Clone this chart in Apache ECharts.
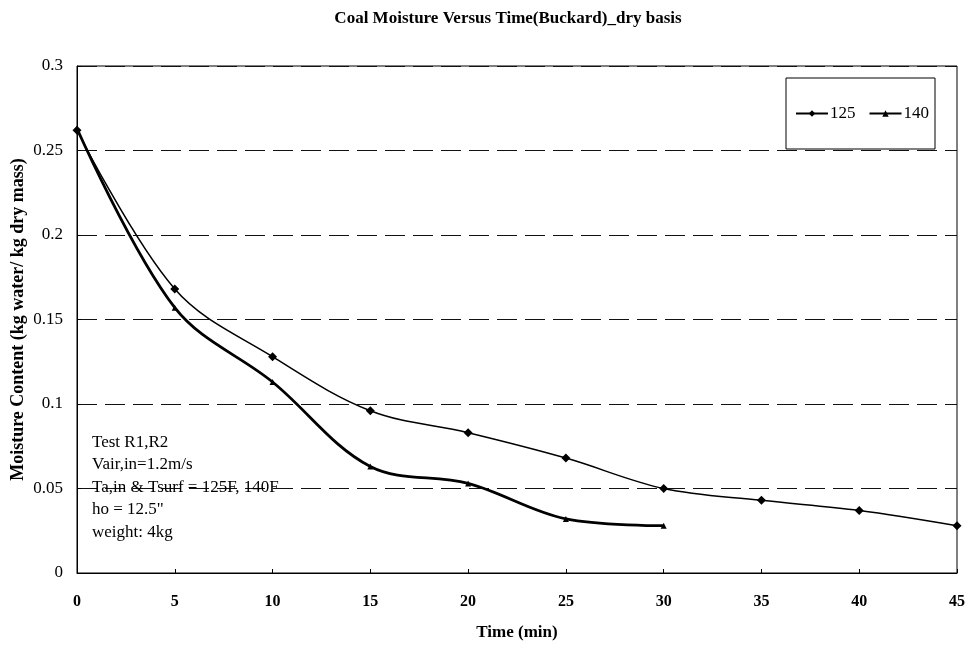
<!DOCTYPE html>
<html>
<head>
<meta charset="utf-8">
<script src="https://cdn.jsdelivr.net/npm/echarts@6/dist/echarts.min.js"></script>
<style>
html,body{margin:0;padding:0;background:#fff;}
#chart{width:967px;height:646px;}
</style>
</head>
<body>
<div id="chart"></div>
<script>
var titleText = 'Coal Moisture Versus Time(Buckard)_dry basis';
var xAxisName = 'Time (min)';
var yAxisName = 'Moisture Content (kg water/ kg dry mass)';
var seriesNames = ['125', '140'];
var time125 = [0, 5, 10, 15, 20, 25, 30, 35, 40, 45];
var moisture125 = [0.262, 0.168, 0.128, 0.096, 0.083, 0.068, 0.050, 0.043, 0.037, 0.028];
var time140 = [0, 5, 10, 15, 20, 25, 30];
var moisture140 = [0.263, 0.157, 0.113, 0.063, 0.053, 0.032, 0.028];
var noteLines = ['Test R1,R2', 'Vair,in=1.2m/s', 'Ta,in & Tsurf = 125F, 140F', 'ho = 12.5"', 'weight: 4kg'];

var serif = '"Liberation Serif", "Times New Roman", serif';
function pairs(xs, ys) { return xs.map(function (x, i) { return [x, ys[i]]; }); }

var chart = echarts.init(document.getElementById('chart'));
chart.setOption({
  backgroundColor: '#fff',
  animation: false,
  title: {
    text: titleText,
    left: 503, top: 5, textAlign: 'center',
    textStyle: { fontFamily: serif, fontSize: 17, fontWeight: 'bold', color: '#000' }
  },
  grid: { left: 77, right: 10, top: 66, bottom: 73, show: true, borderColor: '#000', borderWidth: 1,
          containLabel: false, outerBoundsMode: 'none' },
  legend: {
    data: seriesNames,
    left: 786, top: 78,
    orient: 'horizontal',
    padding: [27, 6, 27, 9],
    itemWidth: 32, itemHeight: 8, itemGap: 13,
    backgroundColor: '#fff', borderColor: '#000', borderWidth: 1,
    textStyle: { fontFamily: serif, fontSize: 17, color: '#000', padding: [0, 0, 0, -3] }
  },
  xAxis: {
    type: 'value', min: 0, max: 45, interval: 5,
    name: xAxisName, nameLocation: 'middle', nameGap: 51, nameMoveOverlap: false,
    nameTextStyle: { fontFamily: serif, fontSize: 17, fontWeight: 'bold', color: '#000' },
    axisLine: { lineStyle: { color: '#000', width: 1 } },
    axisTick: { inside: true, length: 4, lineStyle: { color: '#000' } },
    axisLabel: { margin: 21, fontFamily: serif, fontSize: 16, fontWeight: 'bold', color: '#000' },
    splitLine: { show: false }
  },
  yAxis: {
    type: 'value', min: 0, max: 0.3, interval: 0.05,
    name: yAxisName, nameLocation: 'middle', nameGap: 50, nameRotate: 90, nameMoveOverlap: false,
    nameTextStyle: { fontFamily: serif, fontSize: 18, fontWeight: 'bold', color: '#000' },
    axisLine: { show: true, lineStyle: { color: '#000', width: 1 } },
    axisTick: { show: true, inside: true, length: 4, lineStyle: { color: '#000' } },
    axisLabel: { margin: 14, fontFamily: serif, fontSize: 17, color: '#000',
      formatter: function (v) { return String(Math.round(v * 100) / 100); } },
    splitLine: { show: true, lineStyle: { color: '#111', width: 1, type: [20, 8] } }
  },
  graphic: [{
    type: 'text', left: 92, top: 431, z: 10,
    style: { text: noteLines.join('\n'), fontFamily: serif, fontSize: 17, lineHeight: 22.5, fill: '#000' }
  }],
  series: [{
    name: seriesNames[0], type: 'line', smooth: 0.35,
    data: pairs(time125, moisture125),
    symbol: 'diamond', symbolSize: 9,
    lineStyle: { color: '#000', width: 1.5 },
    itemStyle: { color: '#000' }
  }, {
    name: seriesNames[1], type: 'line', smooth: 0.35,
    data: pairs(time140, moisture140),
    symbol: 'triangle', symbolSize: 6,
    lineStyle: { color: '#000', width: 2.8 },
    itemStyle: { color: '#000' }
  }]
});
</script>
</body>
</html>
